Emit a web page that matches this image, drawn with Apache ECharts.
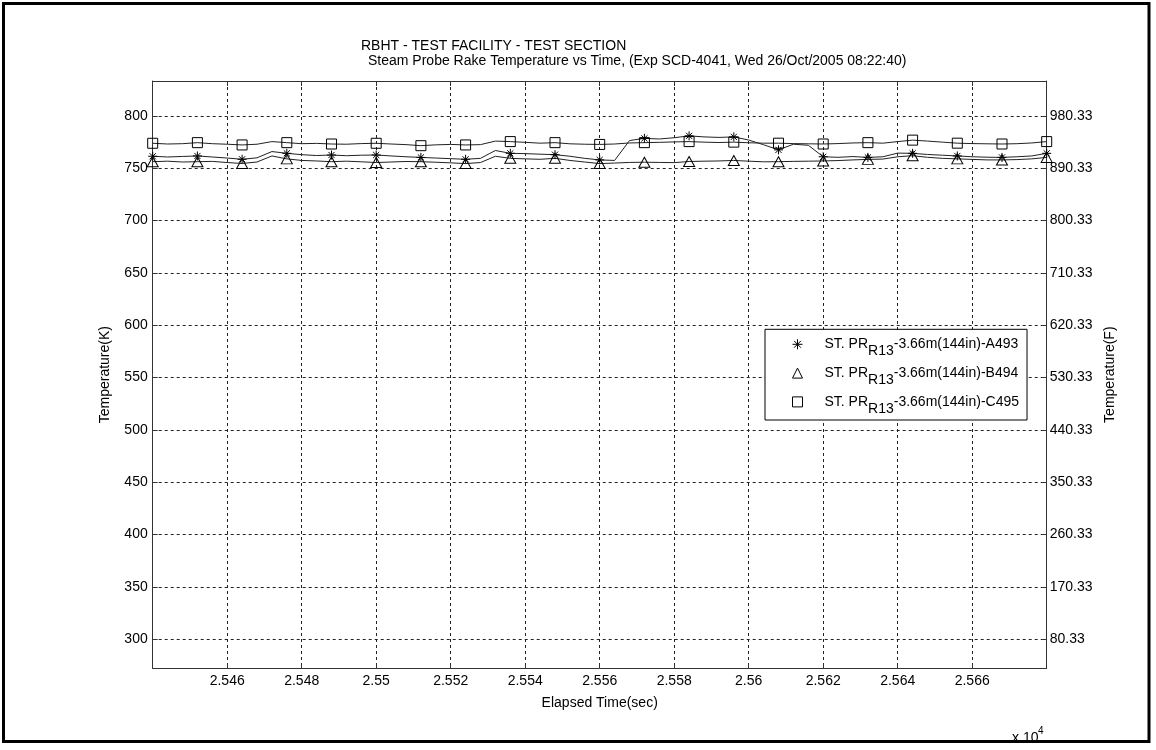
<!DOCTYPE html>
<html>
<head>
<meta charset="utf-8">
<script src="https://cdn.jsdelivr.net/npm/echarts@6/dist/echarts.min.js"></script>
<style>
  html, body { margin: 0; background: #fff; }
  #chart { width: 1156px; height: 750px; }
</style>
</head>
<body>
<div id="chart"></div>
<script>
// elapsed time (sec)
const time = [
  25440, 25444, 25448, 25452, 25456, 25460, 25464, 25468, 25472, 25476,
  25480, 25484, 25488, 25492, 25496, 25500, 25504, 25508, 25512, 25516,
  25520, 25524, 25528, 25532, 25536, 25540, 25544, 25548, 25552, 25556,
  25560, 25564, 25568, 25572, 25576, 25580, 25584, 25588, 25592, 25596,
  25600, 25604, 25608, 25612, 25616, 25620, 25624, 25628, 25632, 25636,
  25640, 25644, 25648, 25652, 25656, 25660, 25664, 25668, 25672, 25676,
  25680
]

// temperatures (K)
const probeA = [
  761.5, 760.8, 761.3, 761.8, 760.8, 759.8, 758.6, 760.0, 766.0, 764.3,
  763.0, 762.2, 762.7, 762.0, 762.5, 762.7, 761.8, 761.0, 760.4, 759.8,
  759.2, 758.6, 759.5, 767.0, 764.3, 764.0, 763.5, 763.0, 761.5, 759.5,
  758.0, 757.5, 776.5, 778.6, 778.0, 779.2, 781.0, 780.0, 779.5, 780.0,
  777.0, 772.5, 767.6, 773.0, 772.0, 761.0, 760.5, 761.2, 760.4, 761.0,
  764.5, 764.3, 763.2, 762.5, 761.8, 761.0, 760.6, 760.4, 761.0, 761.8,
  764.3
]
const probeB = [
  756.3, 756.8, 756.0, 756.3, 756.6, 755.5, 754.6, 756.0, 761.8, 759.0,
  757.5, 757.0, 756.3, 756.8, 756.2, 755.5, 756.0, 756.5, 756.3, 755.8,
  755.2, 754.5, 755.5, 761.5, 759.5, 759.0, 758.6, 759.5, 757.5, 756.0,
  754.5, 755.0, 755.6, 755.8, 755.6, 755.4, 756.5, 756.8, 757.0, 757.5,
  756.8, 756.2, 756.3, 756.6, 756.8, 757.0, 757.4, 758.0, 758.5, 758.8,
  761.0, 762.0, 760.5, 759.5, 759.0, 758.5, 758.0, 758.0, 758.3, 759.0,
  760.4
]
const probeC = [
  773.9, 773.2, 773.5, 774.5, 773.5, 773.0, 772.3, 773.0, 775.5, 774.5,
  773.5, 773.8, 773.2, 773.0, 773.6, 773.9, 773.2, 772.6, 771.6, 772.4,
  772.8, 772.3, 772.6, 776.0, 775.5, 774.8, 774.0, 774.5, 773.4, 773.0,
  772.8, 773.2, 774.2, 774.5, 774.8, 775.2, 775.5, 775.0, 774.6, 775.0,
  774.4, 774.0, 774.0, 773.6, 773.4, 773.2, 773.6, 774.2, 774.5, 774.0,
  775.5, 776.9, 776.0, 775.0, 774.0, 773.6, 773.4, 773.2, 773.5, 774.2,
  775.5
]

const tempTicks = [300, 350, 400, 450, 500, 550, 600, 650, 700, 750, 800]
const seriesNames = [
  'ST. PR_R13-3.66m(144in)-A493',
  'ST. PR_R13-3.66m(144in)-B494',
  'ST. PR_R13-3.66m(144in)-C495'
]

const FONT = '"Liberation Sans", Arial, sans-serif'
const asterisk = 'path://M5,0L5,10M0,5L10,5M1.6,1.6L8.4,8.4M8.4,1.6L1.6,8.4'
const markers = [asterisk, 'triangle', 'rect']
const markerSizes = [9, [11, 10], 10]
const markerStyle = { color: 'rgba(0,0,0,0)', borderColor: '#000', borderWidth: 1 }

function makeSeries(name, values, i) {
  return {
    name: name,
    type: 'line',
    data: values.map((v, k) => [time[k], v]),
    showAllSymbol: true,
    symbol: (val, p) => (p.dataIndex % 3 === 0 ? markers[i] : 'none'),
    symbolSize: markerSizes[i],
    itemStyle: markerStyle,
    lineStyle: { color: '#222', width: 1 },
    clip: false,
    silent: true,
    emphasis: { disabled: true }
  }
}

const axisColor = '#333'
const labelStyle = { color: '#000', fontSize: 14, fontFamily: FONT }

const chart = echarts.init(document.getElementById('chart'))
chart.setOption({
  animation: false,
  backgroundColor: '#fff',
  title: [
    {
      text: 'RBHT - TEST FACILITY - TEST SECTION',
      left: 361, top: 39, padding: 0,
      textStyle: { fontSize: 14, fontWeight: 'normal', color: '#000', fontFamily: FONT }
    },
    {
      text: 'Steam Probe Rake Temperature vs Time, (Exp SCD-4041, Wed 26/Oct/2005 08:22:40)',
      left: 368, top: 54, padding: 0,
      textStyle: { fontSize: 14, fontWeight: 'normal', color: '#000', fontFamily: FONT }
    }
  ],
  grid: { left: 152.7, right: 109.3, top: 81, bottom: 81.7, outerBoundsMode: 'none' },
  legend: {
    orient: 'vertical',
    left: 765, top: 329.3,
    padding: [8, 8, 4.1, 27],
    itemWidth: 10, itemHeight: 10, itemGap: 7.8,
    backgroundColor: '#fff',
    borderColor: '#000', borderWidth: 1, borderRadius: 0,
    selectedMode: false,
    data: seriesNames.map((n, i) => ({ name: n, icon: markers[i], itemStyle: markerStyle })),
    formatter: n => {
      const parts = n.split('_R13')
      return '{a|' + parts[0] + '}{s|R13}{b|' + parts[1] + '}'
    },
    textStyle: {
      color: '#000', fontSize: 14, fontFamily: FONT,
      rich: {
        a: { fontSize: 14, fontFamily: FONT, color: '#000', lineHeight: 28, verticalAlign: 'middle', padding: [0, 0, 0, 17] },
        b: { fontSize: 14, fontFamily: FONT, color: '#000', lineHeight: 28, verticalAlign: 'middle' },
        s: { fontSize: 14, fontFamily: FONT, color: '#000', lineHeight: 12, verticalAlign: 'bottom' }
      }
    }
  },
  xAxis: [
    {
      type: 'value',
      position: 'bottom',
      min: 25440, max: 25680, interval: 20,
      name: 'Elapsed Time(sec)',
      nameLocation: 'middle', nameGap: 28,
      nameTextStyle: labelStyle,
      axisLine: { show: true, lineStyle: { color: axisColor, width: 1 } },
      axisTick: { show: true, inside: true, length: 5, lineStyle: { color: axisColor } },
      axisLabel: {
        ...labelStyle, margin: 6,
        showMinLabel: false, showMaxLabel: false,
        formatter: v => String(+(v / 10000).toFixed(4))
      },
      splitLine: { show: true, lineStyle: { color: '#222', type: [3, 3], width: 1 } }
    },
    {
      type: 'value',
      position: 'top',
      min: 25440, max: 25680, interval: 20,
      axisLine: { show: true, lineStyle: { color: axisColor, width: 1 } },
      axisTick: { show: true, inside: true, length: 5, lineStyle: { color: axisColor } },
      axisLabel: { show: false },
      splitLine: { show: false }
    }
  ],
  yAxis: [
    {
      type: 'value',
      position: 'left',
      min: 272.3, max: 833.4,
      name: 'Temperature(K)',
      nameLocation: 'middle', nameGap: 41, nameRotate: 90,
      nameTextStyle: labelStyle,
      axisLine: { show: true, lineStyle: { color: axisColor, width: 1 } },
      axisTick: { show: true, inside: true, length: 5, customValues: tempTicks, lineStyle: { color: axisColor } },
      axisLabel: { ...labelStyle, margin: 5, customValues: tempTicks },
      splitLine: { show: true, lineStyle: { color: '#222', type: [3, 3], width: 1 } }
    },
    {
      type: 'value',
      position: 'right',
      min: 272.3, max: 833.4,
      name: 'Temperature(F)',
      nameLocation: 'middle', nameGap: 43, nameRotate: 90,
      nameTextStyle: labelStyle,
      axisLine: { show: true, lineStyle: { color: axisColor, width: 1 } },
      axisTick: { show: true, inside: true, length: 5, customValues: tempTicks, lineStyle: { color: axisColor } },
      axisLabel: {
        ...labelStyle, margin: 3, customValues: tempTicks,
        formatter: v => ((v - 273.15) * 1.8 + 32).toFixed(2)
      },
      splitLine: { show: false }
    }
  ],
  graphic: [
    {
      type: 'rect', silent: true,
      shape: { x: 3.5, y: 3.5, width: 1145.5, height: 738 },
      style: { fill: 'none', stroke: '#000', lineWidth: 3 }
    },
    {
      type: 'text', silent: true, x: 1012, y: 738,
      style: { text: 'x 10', font: '14px ' + FONT, fill: '#000', verticalAlign: 'middle' }
    },
    {
      type: 'text', silent: true, x: 1038, y: 731,
      style: { text: '4', font: '10px ' + FONT, fill: '#000', verticalAlign: 'middle' }
    }
  ],
  series: [
    makeSeries(seriesNames[0], probeA, 0),
    makeSeries(seriesNames[1], probeB, 1),
    makeSeries(seriesNames[2], probeC, 2)
  ]
})
</script>
</body>
</html>
